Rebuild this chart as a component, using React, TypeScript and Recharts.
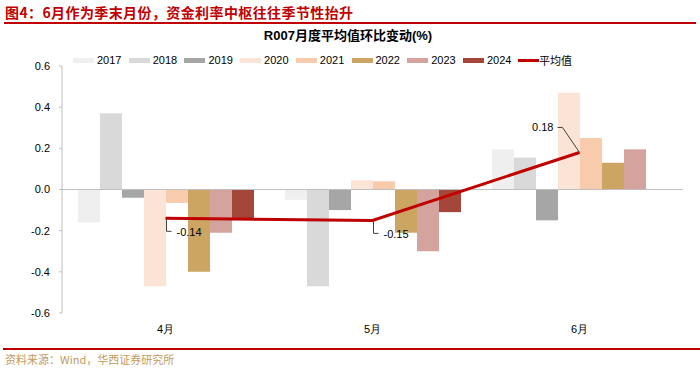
import React from 'react';
import { ComposedChart, Bar, Line, XAxis, YAxis, ReferenceLine, LabelList } from 'recharts';

const months = ['4月', '5月', '6月'];
const years = ['2017', '2018', '2019', '2020', '2021', '2022', '2023', '2024'];
const v2017 = [-0.16, -0.05, 0.195];
const v2018 = [0.37, -0.47, 0.155];
const v2019 = [-0.04, -0.1, -0.15];
const v2020 = [-0.47, 0.045, 0.47];
const v2021 = [-0.065, 0.04, 0.25];
const v2022 = [-0.4, -0.21, 0.13];
const v2023 = [-0.21, -0.3, 0.195];
const v2024 = [-0.14, -0.11, null];
const avg = [-0.14, -0.15, 0.18];
const yTicks = [-0.6, -0.4, -0.2, 0, 0.2, 0.4, 0.6];

const series = [v2017, v2018, v2019, v2020, v2021, v2022, v2023, v2024];
const colors = ['#EFEFEF', '#D9D9D9', '#A6A6A6', '#FBE4D6', '#F8CBAD', '#CCA562', '#D4A39E', '#A5463A'];
const avgName = '平均值';

const data = months.map((m, i) => {
  const row: any = { month: m, avg: avg[i] };
  years.forEach((y, j) => { row['y' + y] = series[j][i]; });
  return row;
});

const FONT = '"Liberation Sans", Arial, sans-serif';

const AvgLabel = (props: any) => {
  const { x, y, value, index } = props;
  if (x == null || y == null) return null;
  const txt = Number(value).toFixed(2);
  if (index === 2) {
    return (
      <g>
        <path d={`M${x},${y} L${x - 17},${y - 25} L${x - 22},${y - 25}`} stroke="#404040" strokeWidth={1} fill="none" />
        <text x={x - 26} y={y - 25} textAnchor="end" dominantBaseline="central" fontSize={11} fontFamily={FONT} fill="#000">{txt}</text>
      </g>
    );
  }
  return (
    <g>
      <path d={`M${x + 1},${y + 1} L${x + 1},${y + 13} L${x + 6},${y + 13}`} stroke="#404040" strokeWidth={1} fill="none" />
      <text x={x + 11} y={y + 14} textAnchor="start" dominantBaseline="central" fontSize={11} fontFamily={FONT} fill="#000">{txt}</text>
    </g>
  );
};

const LegendBox = () => (
  <div style={{ position: 'absolute', left: 0, top: 52, width: 700, height: 16 }}>
    {years.map((y, i) => (
      <div key={y} style={{ position: 'absolute', left: 73 + i * 55.7, top: 0, height: 16, display: 'flex', alignItems: 'center' }}>
        <div style={{ width: 21, height: 5, background: colors[i] }} />
        <span style={{ marginLeft: 3, fontSize: 11, fontFamily: FONT, color: '#000' }}>{y}</span>
      </div>
    ))}
    <div style={{ position: 'absolute', left: 518, top: 0, height: 16, display: 'flex', alignItems: 'center' }}>
      <div style={{ width: 21, height: 3, background: '#C00000' }} />
      <span style={{ marginLeft: 0, fontSize: 11, fontFamily: '"Noto Sans CJK SC", sans-serif', color: '#000' }}>{avgName}</span>
    </div>
  </div>
);

export default function App() {
  return (
    <div style={{ position: 'absolute', left: 0, top: 0, width: 700, height: 375, background: '#fff', overflow: 'hidden' }}>
      <div style={{ position: 'absolute', left: 5, top: 3, fontSize: 14, fontWeight: 'bold', color: '#C00000', fontFamily: '"Noto Sans CJK SC", sans-serif', letterSpacing: 0.4, whiteSpace: 'nowrap', lineHeight: '18px' }}>
        图4：6月作为季末月份，资金利率中枢往往季节性抬升
      </div>
      <div style={{ position: 'absolute', left: 4, top: 22, width: 692, height: 2, background: '#C00000' }} />
      <div style={{ position: 'absolute', left: 0, top: 28, width: 696, textAlign: 'center', fontSize: 13, fontWeight: 'bold', color: '#000', fontFamily: '"Liberation Sans", "Noto Sans CJK SC", sans-serif', lineHeight: '16px' }}>
        R007月度平均值环比变动(%)
      </div>
      <LegendBox />
      <div style={{ position: 'absolute', left: 0, top: 0 }}>
        <ComposedChart width={700} height={375} data={data} margin={{ top: 66, right: 17, bottom: 32, left: 0 }} barGap={0} barSize={22}>
          <XAxis dataKey="month" height={30} axisLine={false} tickLine={false} tick={{ fontSize: 11, fill: '#000', fontFamily: FONT }} tickMargin={6} />
          <YAxis domain={[-0.6, 0.6]} ticks={yTicks} width={62} tickFormatter={(v: number) => v.toFixed(1)} axisLine={{ stroke: '#BFBFBF' }} tickLine={{ stroke: '#BFBFBF' }} tickSize={3} tickMargin={9} tick={{ fontSize: 11, fill: '#000', fontFamily: FONT }} interval={0} />
          {years.map((y, i) => (
            <Bar key={y} dataKey={'y' + y} name={y} fill={colors[i]} isAnimationActive={false} />
          ))}
          <ReferenceLine y={0} stroke="#BFBFBF" strokeWidth={1} />
          <Line dataKey="avg" name={avgName} stroke="#C00000" strokeWidth={3} dot={false} isAnimationActive={false}>
            <LabelList dataKey="avg" content={AvgLabel} />
          </Line>
        </ComposedChart>
      </div>
      <div style={{ position: 'absolute', left: 3, top: 348, width: 697, height: 2, background: '#C00000' }} />
      <div style={{ position: 'absolute', left: 5, top: 351, fontSize: 11, color: '#C49A5A', fontFamily: '"Noto Sans CJK SC", sans-serif', whiteSpace: 'nowrap', lineHeight: '16px' }}>
        资料来源：Wind，华西证券研究所
      </div>
    </div>
  );
}
